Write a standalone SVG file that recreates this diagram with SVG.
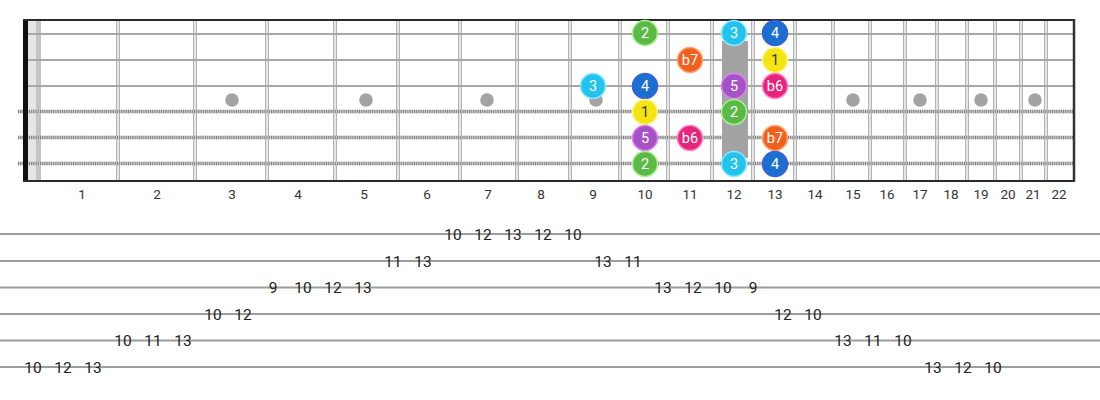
<svg xmlns="http://www.w3.org/2000/svg" width="1100" height="400" viewBox="0 0 1100 400">
<style>
.fret{stroke:#ababab;stroke-width:1.2}
.plain{stroke:#a8a8a8;stroke-width:2}
.woundA{stroke:#cdcdcd;stroke-width:3.6}
.woundB{stroke:#808080;stroke-width:3.6;stroke-dasharray:1 1.2}
.dot{fill:#a3a3a3}
.border{stroke:#2a2a2a;stroke-width:2}
.flab{font-family:Roboto,"Liberation Sans",sans-serif;font-size:13.5px;fill:#333;text-anchor:middle}
.nt{font-family:Roboto,"Liberation Sans",sans-serif;font-size:14.5px;fill:#fff;text-anchor:middle}
.nt.dark{fill:#333}
.tabline{stroke:#9c9c9c;stroke-width:2}
.tn{font-family:Roboto,"Liberation Sans",sans-serif;font-size:15.5px;fill:#222;text-anchor:middle}
.c1{fill:#f4e412;stroke:#fff48a;stroke-width:1.5}
.c2{fill:#5cb947;stroke:#a6f48a;stroke-width:1.5}
.c3{fill:#22c3ec;stroke:#8ee6ff;stroke-width:1.5}
.c4{fill:#1b6fcf;stroke:#3a5fe0;stroke-width:1.5}
.c5{fill:#a552c6;stroke:#e37ef2;stroke-width:1.5}
.c6{fill:#e6247b;stroke:#ff80c2;stroke-width:1.5}
.c7{fill:#f1601f;stroke:#ffa56e;stroke-width:1.5}
</style>
<rect width="1100" height="400" fill="#fff"/>
<g id="fretboard">
  <rect x="28" y="20" width="8" height="160" fill="#e6e6e6"/>
  <rect x="36" y="20" width="5" height="160" fill="#c4c4c4"/>
  <g id="frets">
    <line class="fret" x1="116.7" y1="20" x2="116.7" y2="180"/><line class="fret" x1="119.3" y1="20" x2="119.3" y2="180"/>
    <line class="fret" x1="193.7" y1="20" x2="193.7" y2="180"/><line class="fret" x1="196.3" y1="20" x2="196.3" y2="180"/>
    <line class="fret" x1="265.7" y1="20" x2="265.7" y2="180"/><line class="fret" x1="268.3" y1="20" x2="268.3" y2="180"/>
    <line class="fret" x1="333.7" y1="20" x2="333.7" y2="180"/><line class="fret" x1="336.3" y1="20" x2="336.3" y2="180"/>
    <line class="fret" x1="396.7" y1="20" x2="396.7" y2="180"/><line class="fret" x1="399.3" y1="20" x2="399.3" y2="180"/>
    <line class="fret" x1="458.7" y1="20" x2="458.7" y2="180"/><line class="fret" x1="461.3" y1="20" x2="461.3" y2="180"/>
    <line class="fret" x1="515.7" y1="20" x2="515.7" y2="180"/><line class="fret" x1="518.3" y1="20" x2="518.3" y2="180"/>
    <line class="fret" x1="568.7" y1="20" x2="568.7" y2="180"/><line class="fret" x1="571.3" y1="20" x2="571.3" y2="180"/>
    <line class="fret" x1="618.7" y1="20" x2="618.7" y2="180"/><line class="fret" x1="621.3" y1="20" x2="621.3" y2="180"/>
    <line class="fret" x1="666.7" y1="20" x2="666.7" y2="180"/><line class="fret" x1="669.3" y1="20" x2="669.3" y2="180"/>
    <line class="fret" x1="710.7" y1="20" x2="710.7" y2="180"/><line class="fret" x1="713.3" y1="20" x2="713.3" y2="180"/>
    <line class="fret" x1="751.7" y1="20" x2="751.7" y2="180"/><line class="fret" x1="754.3" y1="20" x2="754.3" y2="180"/>
    <line class="fret" x1="793.7" y1="20" x2="793.7" y2="180"/><line class="fret" x1="796.3" y1="20" x2="796.3" y2="180"/>
    <line class="fret" x1="831.7" y1="20" x2="831.7" y2="180"/><line class="fret" x1="834.3" y1="20" x2="834.3" y2="180"/>
    <line class="fret" x1="868.7" y1="20" x2="868.7" y2="180"/><line class="fret" x1="871.3" y1="20" x2="871.3" y2="180"/>
    <line class="fret" x1="903.7" y1="20" x2="903.7" y2="180"/><line class="fret" x1="906.3" y1="20" x2="906.3" y2="180"/>
    <line class="fret" x1="935.7" y1="20" x2="935.7" y2="180"/><line class="fret" x1="938.3" y1="20" x2="938.3" y2="180"/>
    <line class="fret" x1="965.7" y1="20" x2="965.7" y2="180"/><line class="fret" x1="968.3" y1="20" x2="968.3" y2="180"/>
    <line class="fret" x1="993.7" y1="20" x2="993.7" y2="180"/><line class="fret" x1="996.3" y1="20" x2="996.3" y2="180"/>
    <line class="fret" x1="1019.7" y1="20" x2="1019.7" y2="180"/><line class="fret" x1="1022.3" y1="20" x2="1022.3" y2="180"/>
    <line class="fret" x1="1044.7" y1="20" x2="1044.7" y2="180"/><line class="fret" x1="1047.3" y1="20" x2="1047.3" y2="180"/>
  </g>
  <g id="inlays">
    <circle class="dot" cx="232" cy="100" r="6.8"/>
    <circle class="dot" cx="366" cy="100" r="6.8"/>
    <circle class="dot" cx="487" cy="100" r="6.8"/>
    <circle class="dot" cx="596" cy="100" r="6.8"/>
    <circle class="dot" cx="853" cy="100" r="6.8"/>
    <circle class="dot" cx="920" cy="100" r="6.8"/>
    <circle class="dot" cx="981" cy="100" r="6.8"/>
    <circle class="dot" cx="1035" cy="100" r="6.8"/>
  </g>
  <g id="strings">
    <line class="plain" x1="23" y1="34" x2="1074" y2="34"/>
    <line class="plain" x1="23" y1="60" x2="1074" y2="60"/>
    <line class="plain" x1="23" y1="86" x2="1074" y2="86"/>
    <line class="woundA" x1="18" y1="111.5" x2="1074" y2="111.5"/>
    <line class="woundB" x1="18" y1="111.5" x2="1074" y2="111.5"/>
    <line class="woundA" x1="18" y1="137.5" x2="1074" y2="137.5"/>
    <line class="woundB" x1="18" y1="137.5" x2="1074" y2="137.5"/>
    <line class="woundA" x1="18" y1="163.5" x2="1074" y2="163.5"/>
    <line class="woundB" x1="18" y1="163.5" x2="1074" y2="163.5"/>
  </g>
  <rect id="inlay12" x="722" y="41" width="26" height="117" fill="#a3a3a3"/>
  <rect id="nut" x="23" y="19" width="5" height="163" fill="#111"/>
  <line class="border" x1="23" y1="20" x2="1075" y2="20"/>
  <line class="border" x1="23" y1="181" x2="1075" y2="181"/>
  <line x1="1074" y1="19" x2="1074" y2="182" stroke="#333" stroke-width="2.5"/>
  <g id="fret-labels">
    <text class="flab" x="82" y="199">1</text>
    <text class="flab" x="157" y="199">2</text>
    <text class="flab" x="232" y="199">3</text>
    <text class="flab" x="298" y="199">4</text>
    <text class="flab" x="364" y="199">5</text>
    <text class="flab" x="427" y="199">6</text>
    <text class="flab" x="488" y="199">7</text>
    <text class="flab" x="541" y="199">8</text>
    <text class="flab" x="593" y="199">9</text>
    <text class="flab" x="645" y="199">10</text>
    <text class="flab" x="690" y="199">11</text>
    <text class="flab" x="734" y="199">12</text>
    <text class="flab" x="775" y="199">13</text>
    <text class="flab" x="815" y="199">14</text>
    <text class="flab" x="853" y="199">15</text>
    <text class="flab" x="887" y="199">16</text>
    <text class="flab" x="920" y="199">17</text>
    <text class="flab" x="951" y="199">18</text>
    <text class="flab" x="981" y="199">19</text>
    <text class="flab" x="1008" y="199">20</text>
    <text class="flab" x="1033" y="199">21</text>
    <text class="flab" x="1059" y="199">22</text>
  </g>
</g>
<g id="notes">
  <g id="n-s1-f10"><circle class="c2" cx="645" cy="33" r="12.5"/><text class="nt" x="645" y="38">2</text></g>
  <g id="n-s1-f12"><circle class="c3" cx="734" cy="33" r="12.5"/><text class="nt" x="734" y="38">3</text></g>
  <g id="n-s1-f13"><circle class="c4" cx="775" cy="33" r="12.5"/><text class="nt" x="775" y="38">4</text></g>
  <g id="n-s2-f11"><circle class="c7" cx="690" cy="60" r="12.5"/><text class="nt" x="690" y="65">b7</text></g>
  <g id="n-s2-f13"><circle class="c1" cx="775" cy="60" r="12.5"/><text class="nt dark" x="775" y="65">1</text></g>
  <g id="n-s3-f9"><circle class="c3" cx="593" cy="86" r="12.5"/><text class="nt" x="593" y="91">3</text></g>
  <g id="n-s3-f10"><circle class="c4" cx="645" cy="86" r="12.5"/><text class="nt" x="645" y="91">4</text></g>
  <g id="n-s3-f12"><circle class="c5" cx="734" cy="86" r="12.5"/><text class="nt" x="734" y="91">5</text></g>
  <g id="n-s3-f13"><circle class="c6" cx="775" cy="86" r="12.5"/><text class="nt" x="775" y="91">b6</text></g>
  <g id="n-s4-f10"><circle class="c1" cx="645" cy="112" r="12.5"/><text class="nt dark" x="645" y="117">1</text></g>
  <g id="n-s4-f12"><circle class="c2" cx="734" cy="112" r="12.5"/><text class="nt" x="734" y="117">2</text></g>
  <g id="n-s5-f10"><circle class="c5" cx="645" cy="138" r="12.5"/><text class="nt" x="645" y="143">5</text></g>
  <g id="n-s5-f11"><circle class="c6" cx="690" cy="138" r="12.5"/><text class="nt" x="690" y="143">b6</text></g>
  <g id="n-s5-f13"><circle class="c7" cx="775" cy="138" r="12.5"/><text class="nt" x="775" y="143">b7</text></g>
  <g id="n-s6-f10"><circle class="c2" cx="645" cy="164" r="12.5"/><text class="nt" x="645" y="169">2</text></g>
  <g id="n-s6-f12"><circle class="c3" cx="734" cy="164" r="12.5"/><text class="nt" x="734" y="169">3</text></g>
  <g id="n-s6-f13"><circle class="c4" cx="775" cy="164" r="12.5"/><text class="nt" x="775" y="169">4</text></g>
</g>
<g id="tab">
  <g id="tab-lines">
    <line class="tabline" x1="0" y1="234" x2="1100" y2="234"/>
    <line class="tabline" x1="0" y1="261" x2="1100" y2="261"/>
    <line class="tabline" x1="0" y1="287.5" x2="1100" y2="287.5"/>
    <line class="tabline" x1="0" y1="314" x2="1100" y2="314"/>
    <line class="tabline" x1="0" y1="340.5" x2="1100" y2="340.5"/>
    <line class="tabline" x1="0" y1="367" x2="1100" y2="367"/>
  </g>
  <g id="tab-numbers">
    <text class="tn" x="33" y="372.5">10</text>
    <text class="tn" x="63" y="372.5">12</text>
    <text class="tn" x="93" y="372.5">13</text>
    <text class="tn" x="123" y="346">10</text>
    <text class="tn" x="153" y="346">11</text>
    <text class="tn" x="183" y="346">13</text>
    <text class="tn" x="213" y="319.5">10</text>
    <text class="tn" x="243" y="319.5">12</text>
    <text class="tn" x="273" y="293">9</text>
    <text class="tn" x="303" y="293">10</text>
    <text class="tn" x="333" y="293">12</text>
    <text class="tn" x="363" y="293">13</text>
    <text class="tn" x="393" y="266.5">11</text>
    <text class="tn" x="423" y="266.5">13</text>
    <text class="tn" x="453" y="239.5">10</text>
    <text class="tn" x="483" y="239.5">12</text>
    <text class="tn" x="513" y="239.5">13</text>
    <text class="tn" x="543" y="239.5">12</text>
    <text class="tn" x="573" y="239.5">10</text>
    <text class="tn" x="603" y="266.5">13</text>
    <text class="tn" x="633" y="266.5">11</text>
    <text class="tn" x="663" y="293">13</text>
    <text class="tn" x="693" y="293">12</text>
    <text class="tn" x="723" y="293">10</text>
    <text class="tn" x="753" y="293">9</text>
    <text class="tn" x="783" y="319.5">12</text>
    <text class="tn" x="813" y="319.5">10</text>
    <text class="tn" x="843" y="346">13</text>
    <text class="tn" x="873" y="346">11</text>
    <text class="tn" x="903" y="346">10</text>
    <text class="tn" x="933" y="372.5">13</text>
    <text class="tn" x="963" y="372.5">12</text>
    <text class="tn" x="993" y="372.5">10</text>
  </g>
</g>
</svg>
